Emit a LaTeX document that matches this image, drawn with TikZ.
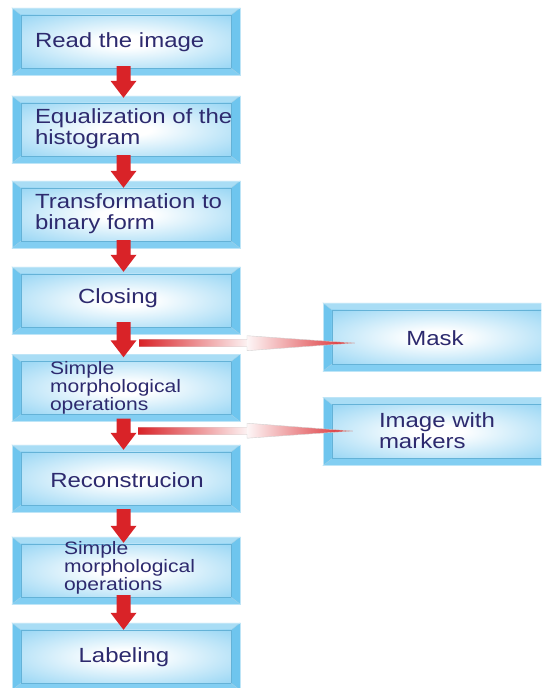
\documentclass[tikz,border=0pt]{standalone}
\usepackage{fontspec}
\setmainfont{Liberation Sans}
\newfontfamily\boxfont[FakeStretch=1.17]{Liberation Sans}
\usetikzlibrary{calc}
\definecolor{sideblue}{RGB}{110,197,238}
\definecolor{topblue}{RGB}{169,221,245}
\definecolor{botblue}{RGB}{130,206,242}
\definecolor{edgeblue}{RGB}{122,202,241}
\definecolor{frameblue}{RGB}{100,178,215}
\definecolor{arrred}{RGB}{217,35,40}
\definecolor{navy}{RGB}{45,42,110}
\pgfdeclareradialshading{boxglow}{\pgfpoint{0bp}{0bp}}{color(0bp)=(white); color(6bp)=(white); color(44bp)=(edgeblue); color(72bp)=(edgeblue)}
\tikzset{
  lbox/.style={rectangle, minimum width=228pt, minimum height=67pt, inner sep=0pt},
  rbox/.style={rectangle, minimum width=228pt, minimum height=68pt, inner sep=0pt},
  txt/.style={font=\boxfont\fontsize{20.5}{21}\selectfont, text=navy, align=left, inner sep=0pt},
  stxt/.style={font=\boxfont\fontsize{18}{17.7}\selectfont, text=navy, align=left, inner sep=0pt},
  harrow/.style={draw=gray!35, line width=0.4pt},
}
\newcommand\bevel[1]{%
  \fill[sideblue] (#1.south west) rectangle (#1.north east);
  \fill[topblue] (#1.north west) -- (#1.north east) -- ([shift={(-9,7)}]#1.north east) -- ([shift={(9,7)}]#1.north west) -- cycle;
  \fill[botblue] (#1.south west) -- (#1.south east) -- ([shift={(-9,-7)}]#1.south east) -- ([shift={(9,-7)}]#1.south west) -- cycle;
  \shade[shading=boxglow] ([shift={(9,7)}]#1.north west) rectangle ([shift={(-9,-7)}]#1.south east);
  \draw[frameblue, line width=0.6pt] ([shift={(9,7)}]#1.north west) rectangle ([shift={(-9,-7)}]#1.south east);
  \draw[frameblue!60, line width=0.4pt] (#1.north west) -- ([shift={(9,7)}]#1.north west)
     (#1.north east) -- ([shift={(-9,7)}]#1.north east)
     (#1.south west) -- ([shift={(9,-7)}]#1.south west)
     (#1.south east) -- ([shift={(-9,-7)}]#1.south east);
  \draw[white!55!sideblue, line width=0.6pt] (#1.south west) rectangle (#1.north east);
}
\newcommand\varr[2]{%
  \fill[arrred] let \p1=(#1), \p2=(#2) in
   (\x1-7pt,\y1) -- (\x1+7pt,\y1) -- (\x1+7pt,\y2+17pt) -- (\x1+13pt,\y2+17pt) -- (\x1,\y2)
   -- (\x1-13pt,\y2+17pt) -- (\x1-7pt,\y2+17pt) -- cycle;}
\begin{document}
\begin{tikzpicture}[x=1pt,y=-1pt]
\useasboundingbox (0,0) rectangle (541,688);
\fill[white] (0,0) rectangle (541,688);
\clip (0,0) rectangle (541,688);
% boxes
\node[lbox] (b1) at (126,41.5) {};
\node[lbox] (b2) at (126,129.5) {};
\node[lbox] (b3) at (126,214.5) {};
\node[lbox] (b4) at (126,300.5) {};
\node[lbox] (b5) at (126,388) {};
\node[lbox] (b6) at (126,478.5) {};
\node[lbox] (b7) at (126,570.5) {};
\node[lbox] (b8) at (126,656.5) {};
\node[rbox] (mk) at (437,337) {};
\node[rbox] (im) at (437,431.5) {};
\foreach \b in {b1,b2,b3,b4,b5,b6,b7,b8,mk,im}{\bevel{\b}}
% texts
\node[txt, anchor=west] (t1) at ([shift={(23,0.5)}]b1.west) {Read the image};
\node[txt, anchor=west] (t2) at ([shift={(23,-0.5)}]b2.west) {Equalization of the\\histogram};
\node[txt, anchor=west] (t3) at ([shift={(23,-0.5)}]b3.west) {Transformation to\\binary form};
\node[txt] (t4) at ([shift={(-8,-2.5)}]b4.center) {Closing};
\node[stxt, anchor=west] (t5) at ([shift={(38,0)}]b5.west) {Simple\\morphological\\operations};
\node[txt] (t6) at ([shift={(1,1.5)}]b6.center) {Reconstrucion};
\node[stxt, anchor=west] (t7) at ([shift={(52,-2.5)}]b7.west) {Simple\\morphological\\operations};
\node[txt] (t8) at ([shift={(-2,0.5)}]b8.center) {Labeling};
\node[txt] (tm) at ([shift={(-2,1)}]mk.center) {Mask};
\node[txt, anchor=west] (ti) at ([shift={(56,-0.5)}]im.west) {Image with\\markers};
% vertical arrows
\varr{[shift={(-2.5,-9)}]b1.south}{[shift={(-2.5,2)}]b2.north}
\varr{[shift={(-2.5,-8)}]b2.south}{[shift={(-2.5,7)}]b3.north}
\varr{[shift={(-2.5,-8)}]b3.south}{[shift={(-2.5,5)}]b4.north}
\varr{[shift={(-2.5,-12)}]b4.south}{[shift={(-2.5,3)}]b5.north}
\varr{[shift={(-2.5,-3)}]b5.south}{[shift={(-2.5,5)}]b6.north}
\varr{[shift={(-2.5,-3)}]b6.south}{[shift={(-2.5,6)}]b7.north}
\varr{[shift={(-2.5,-9)}]b7.south}{[shift={(-2.5,7)}]b8.north}
% horizontal arrows
\coordinate (s1) at ([shift={(13,9)}]b4.south);
\coordinate (h1) at ([shift={(121,9)}]b4.south);
\coordinate (e1) at ([shift={(32,6)}]mk.west);
\shade[left color=arrred, right color=arrred!6] ([yshift=3.5pt]s1) rectangle ([yshift=-3.5pt]h1);
\shade[left color=arrred!4, right color=arrred] ([yshift=7.5pt]h1) -- (e1) -- ([yshift=-7.5pt]h1) -- cycle;
\draw[harrow] ([yshift=3.5pt]s1) -- ([yshift=3.5pt]h1) -- ([yshift=7.5pt]h1) -- (e1) -- ([yshift=-7.5pt]h1) -- ([yshift=-3.5pt]h1) -- ([yshift=-3.5pt]s1);
\coordinate (s2) at ([shift={(12,9)}]b5.south);
\coordinate (h2) at ([shift={(121,9)}]b5.south);
\coordinate (e2) at ([shift={(30,-0.5)}]im.west);
\shade[left color=arrred, right color=arrred!6] ([yshift=3.5pt]s2) rectangle ([yshift=-3.5pt]h2);
\shade[left color=arrred!4, right color=arrred] ([yshift=7.5pt]h2) -- (e2) -- ([yshift=-7.5pt]h2) -- cycle;
\draw[harrow] ([yshift=3.5pt]s2) -- ([yshift=3.5pt]h2) -- ([yshift=7.5pt]h2) -- (e2) -- ([yshift=-7.5pt]h2) -- ([yshift=-3.5pt]h2) -- ([yshift=-3.5pt]s2);
\end{tikzpicture}
\end{document}
